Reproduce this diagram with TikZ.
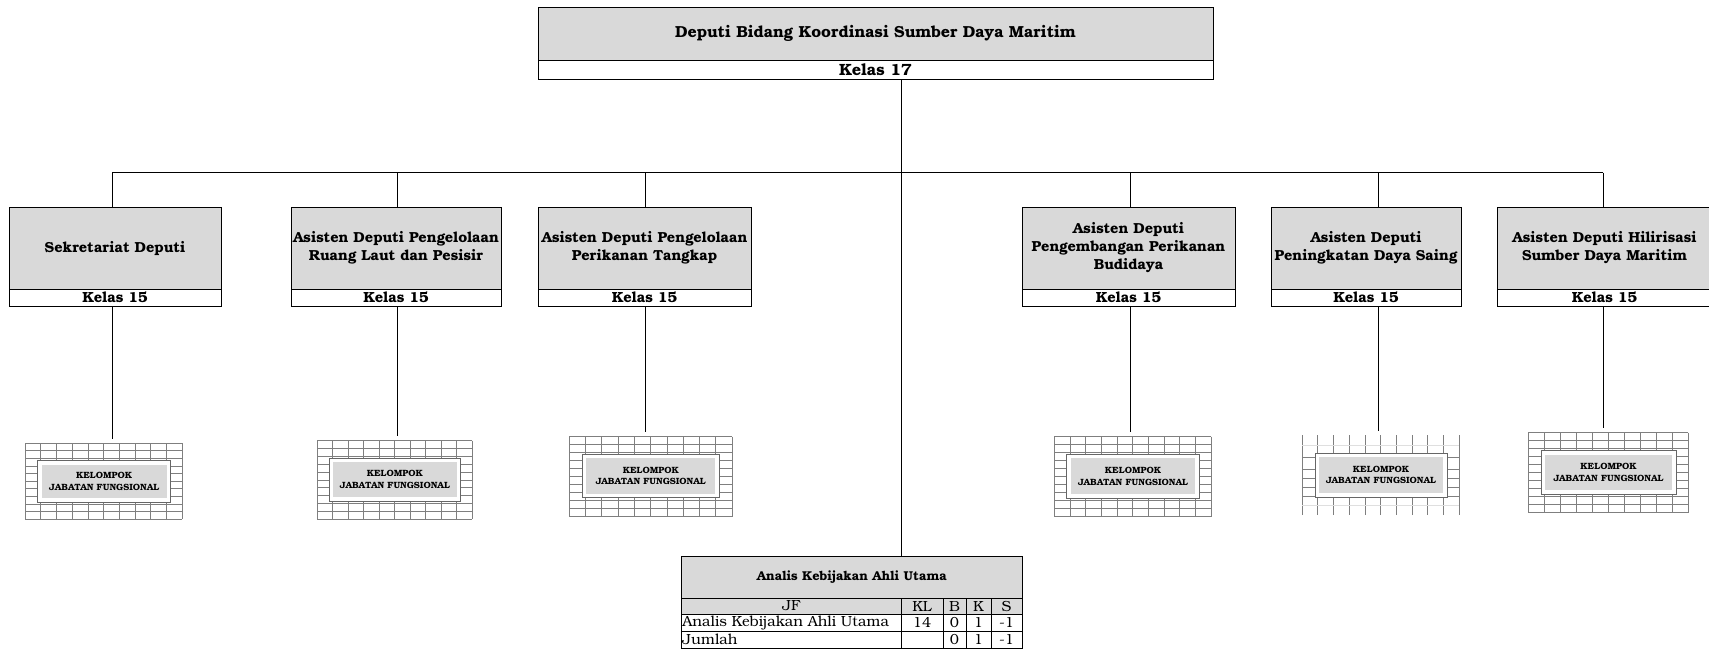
\documentclass[tikz,border=0pt]{standalone}
\usepackage{fontspec}
\setmainfont{texgyrebonum}[Extension=.otf, UprightFont=*-regular, BoldFont=*-bold, ItalicFont=*-italic, BoldItalicFont=*-bolditalic]
\usetikzlibrary{calc}
\definecolor{boxgray}{HTML}{D9D9D9}
\definecolor{gridgray}{HTML}{7F7F7F}
\newcommand{\kjf}[9]{%
  \node[gridframe, corners={#2}{#3}{#4}{#5}] (g#1) {};
  \foreach \i in {0,...,10}{%
    \draw[gridline] ({#2+\i*(#4-#2)/10},#3) -- ({#2+\i*(#4-#2)/10},#5);
    \draw[gridline] (#2,{#3+\i*(#5-#3)/10}) -- (#4,{#3+\i*(#5-#3)/10});
  }
  \node[kjfinner, corners={#6}{#7}{#8}{#9}] (k#1) {KELOMPOK\\JABATAN FUNGSIONAL};
}
\begin{document}
\begin{tikzpicture}[x=0.75pt,y=-0.75pt, line width=0.7pt,
  corners/.style n args={4}{minimum width={(#3-#1)*0.75pt}, minimum height={(#4-#2)*0.75pt}, at={({(#1+#3)/2},{(#2+#4)/2})}},
  graybox/.style={draw=black, fill=boxgray, inner sep=0pt, align=center, font=\bfseries\fontsize{10.9}{13.5}\selectfont},
  titlebox/.style={graybox, font=\bfseries\fontsize{12}{14}\selectfont},
  kelasbox/.style={draw=black, fill=white, inner sep=0pt, font=\bfseries\fontsize{11}{12}\selectfont},
  gridframe/.style={inner sep=0pt, draw=none},
  gridline/.style={draw=gridgray, line width=0.45pt},
  kjfinner/.style={fill=white, draw=gray!80!black, line width=0.6pt, inner sep=0pt, align=center,
    font=\bfseries\fontsize{6.8}{8.5}\selectfont,
    path picture={\fill[boxgray] ($(path picture bounding box.north west)+(4,4)$) rectangle ($(path picture bounding box.south east)+(-4,-4)$);}},
  cell/.style={draw=black, inner sep=0pt, line width=0.6pt},
  ctext/.style={inner sep=0.5pt, font=\fontsize{11}{11}\selectfont},
  conn/.style={draw=black, line width=0.7pt}
]
\useasboundingbox (0,0) rectangle (1709,650);

% top box
\node[titlebox, corners={538}{7.6}{1213}{60}] (n0) {Deputi Bidang Koordinasi Sumber Daya Maritim};
\node[kelasbox, font=\bfseries\fontsize{12.2}{13}\selectfont, corners={538}{60}{1213}{79.6}] (kl0) {Kelas 17};

% level 2 boxes
\node[graybox, corners={9}{207}{221}{289}] (n1) {Sekretariat Deputi};
\node[kelasbox, corners={9}{289}{221}{306}] (kl1) {Kelas 15};
\node[graybox, corners={291}{207}{501}{289}] (n2) {Asisten Deputi Pengelolaan\\Ruang Laut dan Pesisir};
\node[kelasbox, corners={291}{289}{501}{306}] (kl2) {Kelas 15};
\node[graybox, corners={538}{207}{751}{289}] (n3) {Asisten Deputi Pengelolaan\\Perikanan Tangkap};
\node[kelasbox, corners={538}{289}{751}{306}] (kl3) {Kelas 15};
\node[graybox, corners={1022}{207}{1235}{289}] (n4) {Asisten Deputi\\Pengembangan Perikanan\\Budidaya};
\node[kelasbox, corners={1022}{289}{1235}{306}] (kl4) {Kelas 15};
\node[graybox, corners={1271}{207}{1461}{289}] (n5) {Asisten Deputi\\Peningkatan Daya Saing};
\node[kelasbox, corners={1271}{289}{1461}{306}] (kl5) {Kelas 15};
\node[graybox, corners={1497}{207}{1712}{289}] (n6) {Asisten Deputi Hilirisasi\\Sumber Daya Maritim};
\node[kelasbox, corners={1497}{289}{1712}{306}] (kl6) {Kelas 15};

% kelompok jabatan fungsional
\kjf{1}{25}{443}{182}{519}{37.7}{460.7}{170.7}{502}
\kjf{2}{317}{440.7}{472}{519}{329}{458}{460.7}{501}
\kjf{3}{569}{436.7}{732}{516.7}{582.3}{454.3}{719.3}{497.7}
\kjf{4}{1054.3}{436.7}{1211}{516.7}{1066.7}{454.3}{1199.3}{498.3}
\kjf{6}{1528}{432.7}{1688}{512.7}{1541}{450.7}{1676}{494}
% sparse grid variant
\node[gridframe, corners={1302}{435}{1459}{515}] (g5) {};
\foreach \i in {0,...,10}{\draw[gridline] ({1302+\i*15.7},435) -- ({1302+\i*15.7},515);}
\draw[gridline, draw=gray!25] (1302,445) -- (1459,445) (1302,505) -- (1459,505);
\foreach \yy in {457,469,478,487,496}{\draw[gridline] (1302,\yy) -- (1315,\yy) (1447,\yy) -- (1459,\yy);}
\node[kjfinner, corners={1315}{453}{1447}{497}] (k5) {KELOMPOK\\JABATAN FUNGSIONAL};

% table
\node[graybox, font=\bfseries\fontsize{9.6}{11}\selectfont, corners={681.7}{556.7}{1022}{598}] (th) {Analis Kebijakan Ahli Utama};
\node[cell, fill=boxgray, corners={681.7}{598}{901}{614}] (c11) {};
\node[cell, fill=boxgray, corners={901}{598}{943}{614}] (c12) {};
\node[cell, fill=boxgray, corners={943}{598}{966}{614}] (c13) {};
\node[cell, fill=boxgray, corners={966}{598}{991}{614}] (c14) {};
\node[cell, fill=boxgray, corners={991}{598}{1022}{614}] (c15) {};
\node[cell, corners={681.7}{614}{901}{631}] (c21) {};
\node[cell, corners={901}{614}{943}{631}] (c22) {};
\node[cell, corners={943}{614}{966}{631}] (c23) {};
\node[cell, corners={966}{614}{991}{631}] (c24) {};
\node[cell, corners={991}{614}{1022}{631}] (c25) {};
\node[cell, corners={681.7}{631}{901}{648.5}] (c31) {};
\node[cell, corners={901}{631}{943}{648.5}] (c32) {};
\node[cell, corners={943}{631}{966}{648.5}] (c33) {};
\node[cell, corners={966}{631}{991}{648.5}] (c34) {};
\node[cell, corners={991}{631}{1022}{648.5}] (c35) {};
\node[ctext] (t11) at (c11.center) {JF};
\node[ctext] (t12) at (c12.center) {KL};
\node[ctext] (t13) at (c13.center) {B};
\node[ctext] (t14) at (c14.center) {K};
\node[ctext] (t15) at (c15.center) {S};
\node[ctext, anchor=west] (t21) at (c21.west) {Analis Kebijakan Ahli Utama};
\node[ctext] (t22) at (c22.center) {14};
\node[ctext] (t23) at (c23.center) {0};
\node[ctext] (t24) at (c24.center) {1};
\node[ctext] (t25) at (c25.center) {-1};
\node[ctext, anchor=west] (t31) at (c31.west) {Jumlah};
\node[ctext] (t33) at (c33.center) {0};
\node[ctext] (t34) at (c34.center) {1};
\node[ctext] (t35) at (c35.center) {-1};

% connectors
\coordinate (stem) at (901,172.7);
\coordinate (b1) at (112,172.7);
\coordinate (b2) at (397,172.7);
\coordinate (b3) at (645,172.7);
\coordinate (b4) at (1130,172.7);
\coordinate (b5) at (1378,172.7);
\coordinate (b6) at (1603,172.7);
\draw[conn] (stem |- kl0.south) -- (stem |- th.north);
\draw[conn] (b1) -- (b6);
\foreach \k in {1,...,6}{
  \draw[conn] (b\k) -- (b\k |- n\k.north);
  \draw[conn, shorten >=3pt] (b\k |- kl\k.south) -- (b\k |- g\k.north);
}
\end{tikzpicture}
\end{document}
